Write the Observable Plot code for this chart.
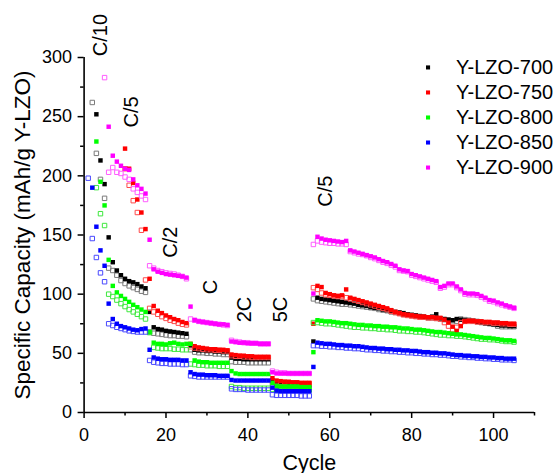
<!DOCTYPE html>
<html><head><meta charset="utf-8">
<script src="https://cdn.jsdelivr.net/npm/d3@7"></script>
<script src="https://cdn.jsdelivr.net/npm/@observablehq/plot@0.6"></script>
<style>
html,body{margin:0;padding:0;background:#fff;}
svg{display:block;}
</style>
</head><body><div id="chart"></div>
<script>
// ---- data ----
const cycles = d3.range(1, 106);
const seriesNames = ["Y-LZO-700", "Y-LZO-750", "Y-LZO-800", "Y-LZO-850", "Y-LZO-900"];

// filled squares (per cycle 1..105)
const k700 = [null,null,252,213,193, 148,127,120,116,113,111,110,108.5,106.5,105, 85,72,70.5,70,69,68.5,68,67.5,67,66.5, 57,53,52.5,52.5,52,52,51.5,51.5,51,51, 46.5,45.5,45.5,45,45,45,45,45,45,45, 27,25,25,24.5,24.5,24.5,24.5,24,24,24,
  60, 97,96,95.5,95,94.5,94,93.5,93,92.5,92, 91,90.5,90,89,88.5,88,87,86.5,86,85, 84.5,84,83,82.5,82,81.5,81,80.5,81,83, 79.5,79,78.5,78,79,78.5,78,77.5,77,76.5, 76,75.5,75,74.5,74,73.5,73.5,73,73];
const k750 = [null,null,null,null,null, null,null,null,null,223,206,194,180,169,155, 113,90,86,84,82,80.5,79,78,76.5,75.5, 58,56,55,54.5,54,53.5,53.5,53,53,52.5, 49,48.5,48,48,47.5,47.5,47,47,47,47, 29,27,26.5,26,26,25.5,25.5,25,25,25,
  75, 107,106,101,100,99,98.5,99,104,97,96, 95,94,93,92,91,90,89,88,86.5,85, 84,83,82.5,82,81.5,81,81,80.5,80.5,80, 80,78.5,76,72.5,69,73,77,77.5,77.5,77, 77,76.5,76.5,76,76,75.5,75.5,75,75];
const k800 = [null,null,229,195,175, 129,107,101.5,98.5,96,93.5,91,89,87,85, 68,59,58,58,57.5,58.5,59,58,57.5,58, 58,44,43,42.5,42.5,42,42,42,42,42, 35,33,32.5,32.5,32.5,32.5,32.5,32.5,32.5,32.5, 25,22.5,22,22,22,22,22,21.5,21.5,21.5,
  51, 78,77.5,77,77,76.5,76,75.5,75.5,75,74.5, 74,74,73.5,73.5,73,73,72.5,72.5,72,72, 71.5,71,71,70.5,70,70,69.5,69,68.5,68, 68,67.5,67,66.5,66,66,65.5,65,64.5,64, 63.5,63,63,62.5,62,61.5,61,61,60.5];
const k850 = [null,190,157,137,124, 92,79,75,73,72,71,70,69.5,70.5,71, 53,46.5,45.5,45,45,44.5,44.5,44.5,44,44, 34,32.5,32,32,31.5,31.5,31.5,31,31,31, 27.5,27,27,27,27,27,27,27,27,27, 21,18.5,18,18,18,18,18,18,18,18,
  38.5, 59,58.5,58,58,57.5,57,57,56.5,56.5,56, 56,55.5,55,54.5,54.5,54,54,53.5,53.5,53, 53,52.5,52.5,52,52,51.5,51,51,50.5,50.5, 50,50,49.5,49,48.5,48.5,48,48,47.5,47.5, 47,47,46.5,46.5,46,46,45.5,45.5,45.5];
const k900 = [null,null,null,null,null, 241.5,217,212,208.5,206,205,197,192,189,185, 146,121,119,118,117,116.5,116,115.5,115,114, 89.5,78,77,76.5,76,75.5,75,74.5,74.5,74, 60,59.5,59,59,58.5,58.5,58.5,58,58,58, 34,33,33,33,33,33,33,33,33,33,
  100.5, 148.5,147,146,145.5,145,144.5,144,145,137,136, 135,134,133,132,131,129.5,128,127,125.5,124, 121,120,119.5,117,116,115,114,113,112,111, 106,107,109,109,106.5,104,101,100.5,100.5,100, 98.5,97,95,94.5,93,92,90.5,89.5,88.5];

// open squares (per cycle 1..105)
const o700 = [null,262,219,197,181, 122,120,116,111.5,109,107,105.5,104,102.5,101.5, 68,67,66.5,66,65.5,65,65,64.5,64.5,64, 53,51,50.5,50.5,50,50,49.5,49.5,49,49, 43,42.5,42.5,42.5,42,42,42,42,42,42, 23,22.5,22.5,22,22,22,22,22,22,22,
  96, 94.5,94,93.5,93,92.5,92,91.5,91.5,91,90.5, 90,89.5,89,88.5,88,87,86.5,86,85,84.5, 84,83,82.5,82,81.5,81,80.5,80,80,79.5, 79,78.5,78,77.5,77,79,78.5,78,77.5,77, 76,75.5,75,74.5,73,72.5,72.5,72.5,72.5];
const o750 = [null,null,null,null,null, null,null,null,null,206,192,179,169,154,112, 88,85,83,81,79.5,78,77,75.5,74.5,74, 55.5,54.5,54,53.5,53,53,52.5,52.5,52,52, 48,47.5,47.5,47,47,46.5,46.5,46.5,46.5,46.5, 26.5,26,25.5,25.5,25,25,25,24.5,24.5,24.5,
  105.5, 104,101,99.5,99,98.5,98,98,97,96,95, 94,93,92,91,90,89,88,87,85.5,84.5, 83.5,82.5,82,81.5,81,80.5,80.5,80,80,79.5, 79,76,73,70,72,76,77,77,77,76.5, 76.5,76,76,75.5,75.5,75,75,74.5,74.5];
const o800 = [null,null,190,168,158, 100,98,95,92,89.5,87,85,83,81,79, 67.5,55,54.5,54,54,54,53.5,53.5,53,53, 41,40.5,40,40,39.5,39.5,39.5,39,39,39, 22,21,21,20.5,20.5,20.5,20.5,20.5,20.5,20.5, 19.5,19,19,19,19,19,19,19,19,19,
  76, 76,75.5,75,75,74.5,74,73.5,73,72.5,72, 72,71.5,71.5,71,71,70.5,70.5,70,70,69.5, 69,69,68.5,68.5,68,68,67.5,67,66.5,66, 65.5,65.5,65,65,64.5,64.5,64,63.5,63,62.5, 62,62,61.5,61.5,61,60.5,60,60,59.5];
const o850 = [198,147,131,118,110.5, 75,73.5,72,71,70,69,68.5,68,68,68, 44,42.5,42,41.5,41.5,41,41,41,40.5,40.5, 31,30.5,30,30,30,30,30,30,30,30, 20,19.5,19.5,19.5,19,19,19,19,19,19, 15,14.5,14.5,14.5,14.5,14.5,14.5,14,14,14,
  56.5, 56.5,56,56,55.5,55.5,55,55,54.5,54.5,54, 54,53.5,53,53,52.5,52.5,52,52,51.5,51.5, 51,51,50.5,50.5,50,50,49.5,49.5,49,49, 48.5,48.5,48,47.5,47.5,47,47,46.5,46.5,46, 46,45.5,45.5,45,45,44.5,44.5,44.5,44];
const o900 = [null,null,null,null,283, 203,207,203,202,199,197,189,186,183,180, 124,122,120,119,118,117.5,117,116,115,113, 79,78,77,76.5,76,75.5,75,74.5,74,73.5, 61,60,59.5,59,59,58.5,58.5,58,58,58, 35,34,33.5,33.5,33,33,33,33,33,33,
  142, 145,144,143.5,143,143,142.5,142.5,142,136,135, 134,133.5,132.5,131,130,128.5,127,126,124.5,123, 120,119.5,119,116,115,114,113,112,111,110, 105,106,108,108,105.5,103,100,99.5,99.5,99, 97.5,96,94,93.5,92,91,90,89,88];

// rate annotations
const rateLabels = ["C/10", "C/5", "C/2", "C", "2C", "5C", "C/5"];
const rateCycle  = [4.0, 11.7, 21.2, 30.9, 39.3, 47.9, 59];
const rateValue  = [319, 254, 144, 106, 87, 87, 187];

// axis ticks
const xMajor = [0, 20, 40, 60, 80, 100];
const xMinor = [10, 30, 50, 70, 90, 110];
const yMajor = [0, 50, 100, 150, 200, 250, 300];
const yMinor = [25, 75, 125, 175, 225, 275];

// ---- styling ----
const fillColors = ["#000000", "#ff0000", "#00ff00", "#0000ff", "#ff00ff"];
const openColors = ["#7a7a7a", "#ff4a4a", "#3ee83e", "#4a4aff", "#ff5cff"];
const filledSets = [k700, k750, k800, k850, k900];
const openSets = [o700, o750, o800, o850, o900];

function rows(arr, name) {
  const out = [];
  arr.forEach((v, i) => { if (v != null) out.push({series: name, cycle: cycles[i], value: v}); });
  return out;
}

const font = "Arial, 'Liberation Sans', Helvetica, sans-serif";
const dotR = 2.5;

const marks = [];
seriesNames.forEach((name, i) => {
  marks.push(Plot.dot(rows(openSets[i], name), {x: "cycle", y: "value", symbol: "square", r: dotR, stroke: openColors[i], strokeWidth: 1, fill: "none"}));
  marks.push(Plot.dot(rows(filledSets[i], name), {x: "cycle", y: "value", symbol: "square", r: dotR, fill: fillColors[i], stroke: "none"}));
});

// legend (placed in data space at top right)
const legendCycle = 84, legendTop = 291.6, legendStep = 21.15;
const legendRows = seriesNames.map((s, i) => ({s, i, y: legendTop - i * legendStep}));

const chart = Plot.plot({
  width: 560, height: 473,
  marginLeft: 83.6, marginRight: 26, marginTop: 57, marginBottom: 61,
  x: {domain: [0, 110], label: null},
  y: {domain: [0, 300], label: null},
  style: {fontFamily: font, background: "#fff", color: "#000"},
  marks: [
    Plot.axisX({ticks: xMajor, tickSize: 6, tickPadding: 10, fontSize: 18, label: null, strokeWidth: 1.5}),
    Plot.axisX({ticks: xMinor, tickSize: 3.5, tickFormat: () => "", label: null, strokeWidth: 1.5}),
    Plot.axisY({ticks: yMajor, tickSize: 6, tickPadding: 6, fontSize: 18, label: null, strokeWidth: 1.5}),
    Plot.axisY({ticks: yMinor, tickSize: 3.5, tickFormat: () => "", label: null, strokeWidth: 1.5}),
    Plot.ruleY([0], {stroke: "#000", strokeWidth: 1.6}),
    Plot.ruleX([0], {stroke: "#000", strokeWidth: 1.6}),
    ...marks,
    Plot.text(rateLabels, {x: (d, i) => rateCycle[i], y: (d, i) => rateValue[i], text: d => d, rotate: -90, fontSize: 20, fill: "#000"}),
    Plot.dot(legendRows, {x: () => legendCycle, y: "y", symbol: "square", r: 2.3, fill: d => fillColors[d.i]}),
    Plot.text(legendRows, {x: () => legendCycle, y: "y", text: "s", dx: 28, textAnchor: "start", fontSize: 20, fill: "#000"}),
    Plot.text(["Specific Capacity (mAh/g Y-LZO)"], {frameAnchor: "left", text: d => d, rotate: -90, textAnchor: "middle", dx: -61, fontSize: 22.5, fill: "#000"}),
    Plot.text(["Cycle"], {frameAnchor: "bottom", text: d => d, textAnchor: "middle", dy: 57, fontSize: 21.5, fill: "#000"})
  ]
});
document.getElementById("chart").appendChild(chart);
</script>
</body></html>
